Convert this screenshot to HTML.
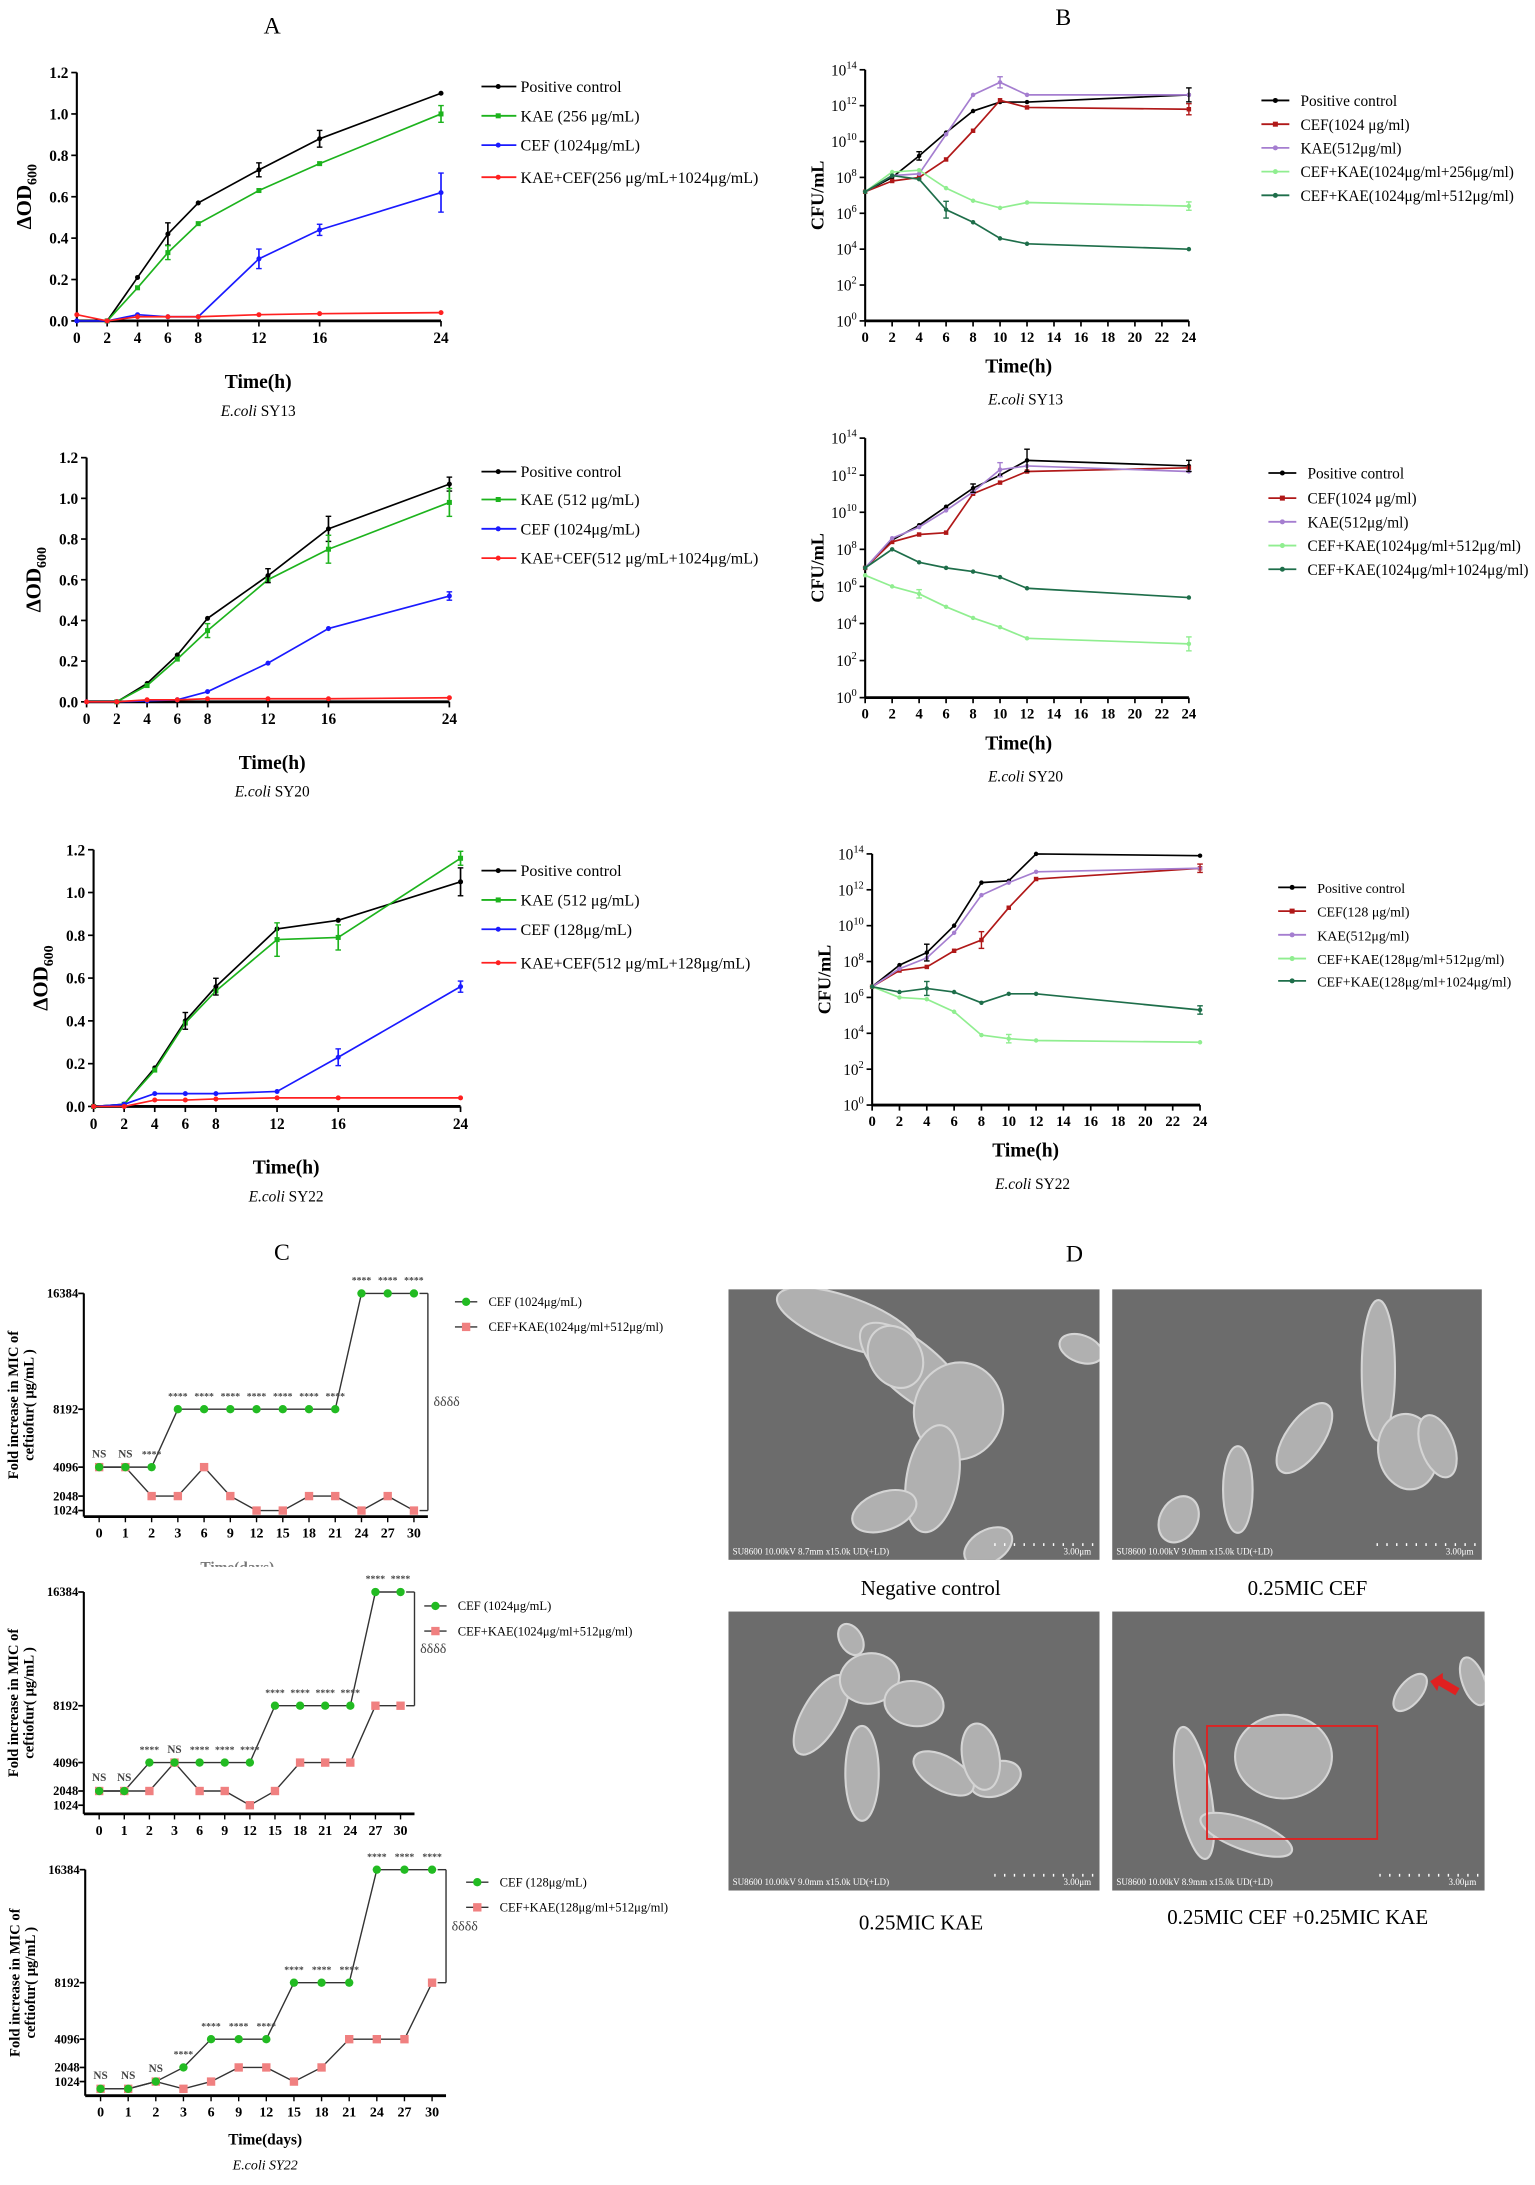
<!DOCTYPE html>
<html><head><meta charset="utf-8">
<style>
html,body{margin:0;padding:0;background:#fff;}
svg{display:block;font-family:"Liberation Serif",serif;}
</style></head>
<body>
<svg id="s" width="1535" height="2185" viewBox="0 0 1100 1566" xmlns="http://www.w3.org/2000/svg"></svg>
<script>
const S=document.getElementById('s');let h='';
function T(x,y,t,o){o=o||{};h+=`<text x="${x}" y="${y}" font-size="${o.fs||12}" text-anchor="${o.a||'middle'}" font-weight="${o.w||'normal'}" font-style="${o.i||'normal'}" fill="${o.c||'#000'}" ${o.tr?`transform="${o.tr}"`:''}>${t}</text>`;}
function L(x1,y1,x2,y2,c,w){h+=`<line x1="${x1}" y1="${y1}" x2="${x2}" y2="${y2}" stroke="${c||'#000'}" stroke-width="${w||1}"/>`;}
function P(pts,c,w){h+=`<polyline points="${pts.map(p=>p.join(',')).join(' ')}" fill="none" stroke="${c}" stroke-width="${w||1.2}"/>`;}
function M(x,y,c,sh,r){r=r||2;if(sh=='s')h+=`<rect x="${x-r}" y="${y-r}" width="${2*r}" height="${2*r}" fill="${c}"/>`;else h+=`<circle cx="${x}" cy="${y}" r="${r}" fill="${c}"/>`;}
// ---------- Panel A ----------
function panelA(o){
 const X=t=>o.x0+(o.x24-o.x0)*t/24, Y=v=>o.yb-(o.yb-o.yt)*v/1.2;
 L(o.x0,o.yt,o.x0,o.yb,'#000',1.5);L(o.x0,o.yb,o.x24,o.yb,'#000',2);
 for(let i=0;i<=6;i++){const v=i*0.2;L(o.x0-4,Y(v),o.x0,Y(v),'#000',1.2);T(o.x0-6,Y(v)+4,v.toFixed(1),{a:'end',w:'bold',fs:11});}
 [0,2,4,6,8,12,16,24].forEach(t=>{L(X(t),o.yb,X(t),o.yb+4,'#000',1.2);T(X(t),o.yb+16,t,{w:'bold',fs:11});});
 const cols=['#000','#1db31d','#1a1aff','#ff2020'],ts=[0,2,4,6,8,12,16,24];
 o.d.forEach((d,k)=>{const pts=[];d.forEach((v,i)=>{if(v!=null)pts.push([X(ts[i]),Y(v)]);});P(pts,cols[k]);pts.forEach(p=>M(p[0],p[1],cols[k],k==1?'s':'c',1.8));});
 o.err.forEach(e=>{const x=X(e[0]),y=Y(e[1]),c=cols[e[3]];L(x,y-e[2],x,y+e[2],c,1.2);L(x-2,y-e[2],x+2,y-e[2],c);L(x-2,y+e[2],x+2,y+e[2],c);});
 o.leg.forEach((t,k)=>{const y=o.ly[k];L(345,y,370,y,cols[k],1.3);M(357,y,cols[k],k==1?'s':'c',1.8);T(373,y+4,t,{a:'start',fs:11.5});});
 T(o.xl,o.yb+48,'Time(h)',{w:'bold',fs:14});
 h+=`<text x="${o.xl}" y="${o.yb+68}" font-size="11" text-anchor="middle"><tspan font-style="italic">E.coli</tspan> ${o.st}</text>`;
 h+=`<text transform="translate(${o.x0-33},${(o.yt+o.yb)/2}) rotate(-90)" font-size="15" font-weight="bold" text-anchor="middle">ΔOD<tspan font-size="10" dy="4">600</tspan></text>`;
}
T(195,24,'A',{fs:17});
panelA({x0:55,x24:316,yt:52,yb:230,st:'SY13',xl:185,ly:[62,83,104,127],
 leg:['Positive control','KAE (256 μg/mL)','CEF (1024μg/mL)','KAE+CEF(256 μg/mL+1024μg/mL)'],
 d:[[null,0,0.21,0.42,0.57,0.73,0.88,1.1],[null,0,0.16,0.33,0.47,0.63,0.76,1.0],[0,0,0.03,0.02,0.02,0.3,0.44,0.62],[0.03,0,0.02,0.02,0.02,0.03,0.035,0.04]],
 err:[[6,0.42,8,0],[16,0.88,6,0],[12,0.73,5,0],[24,1.0,6,1],[6,0.33,5,1],[24,0.62,14,2],[12,0.3,7,2],[16,0.44,4,2]]});
panelA({x0:62,x24:322,yt:328,yb:503,st:'SY20',xl:195,ly:[338,358,379,400],
 leg:['Positive control','KAE (512 μg/mL)','CEF (1024μg/mL)','KAE+CEF(512 μg/mL+1024μg/mL)'],
 d:[[null,0,0.09,0.23,0.41,0.62,0.85,1.07],[null,0,0.08,0.21,0.35,0.6,0.75,0.98],[0,0,0.005,0.01,0.05,0.19,0.36,0.52],[0,0,0.01,0.01,0.015,0.015,0.015,0.02]],
 err:[[16,0.85,9,0],[12,0.62,5,0],[24,1.07,5,0],[24,0.98,10,1],[16,0.75,10,1],[8,0.35,5,1],[24,0.52,3,2]]});
panelA({x0:67,x24:330,yt:609,yb:793,st:'SY22',xl:205,ly:[624,645,666,690],
 leg:['Positive control','KAE (512 μg/mL)','CEF (128μg/mL)','KAE+CEF(512 μg/mL+128μg/mL)'],
 d:[[0,0.01,0.18,0.4,0.56,0.83,0.87,1.05],[0,0.01,0.17,0.39,0.54,0.78,0.79,1.16],[0,0.01,0.06,0.06,0.06,0.07,0.23,0.56],[0,0,0.03,0.03,0.035,0.04,0.04,0.04]],
 err:[[6,0.4,6,0],[8,0.56,6,0],[24,1.05,10,0],[12,0.78,12,1],[16,0.79,9,1],[24,1.16,5,1],[16,0.23,6,2],[24,0.56,4,2]]});
// ---------- Panel B ----------
function panelB(o){
 const X=t=>o.x0+(o.x24-o.x0)*t/24, Y=v=>o.yb-(o.yb-o.yt)*v/14;
 L(o.x0,o.yt,o.x0,o.yb,'#000',1.5);L(o.x0,o.yb,o.x24,o.yb,'#000',2);
 for(let v=0;v<=14;v+=2){L(o.x0-4,Y(v),o.x0,Y(v),'#000',1.2);h+=`<text x="${o.x0-6}" y="${Y(v)+4}" font-size="11" text-anchor="end">10<tspan font-size="7.5" dy="-5">${v}</tspan></text>`;}
 for(let t=0;t<=24;t+=2){L(X(t),o.yb,X(t),o.yb+4,'#000',1.2);T(X(t),o.yb+15,t,{w:'bold',fs:10.5});}
 const cols=['#000','#b01818','#a57ed0','#90ee90','#1e6e4a'],ts=[0,2,4,6,8,10,12,24];
 o.d.forEach((d,k)=>{const pts=d.map((v,i)=>[X(ts[i]),Y(v)]);P(pts,cols[k]);pts.forEach(p=>M(p[0],p[1],cols[k],k==1?'s':'c',1.6));});
 o.err.forEach(e=>{const x=X(e[0]),y=Y(e[1]),c=cols[e[3]];L(x,y-e[2],x,y+e[2],c,1);L(x-2,y-e[2],x+2,y-e[2],c);L(x-2,y+e[2],x+2,y+e[2],c);});
 o.leg.forEach((t,k)=>{const y=o.ly[k];L(o.lx-28,y,o.lx-8,y,cols[k],1.3);M(o.lx-18,y,cols[k],k==1?'s':'c',1.8);T(o.lx,y+4,t,{a:'start',fs:o.lfs||11});});
 T(o.xl,o.yb+37,'Time(h)',{w:'bold',fs:14});
 h+=`<text x="${o.xl+5}" y="${o.yb+60}" font-size="11" text-anchor="middle"><tspan font-style="italic">E.coli</tspan> ${o.st}</text>`;
 T(0,0,'CFU/mL',{w:'bold',fs:13,tr:`translate(${o.x0-30},${(o.yt+o.yb)/2}) rotate(-90)`});
}
T(762,18,'B',{fs:17});
panelB({x0:620,x24:852,yt:50,yb:230,st:'SY13',xl:730,lx:932,ly:[72,89,106,123,140],
 leg:['Positive control','CEF(1024 μg/ml)','KAE(512μg/ml)','CEF+KAE(1024μg/ml+256μg/ml)','CEF+KAE(1024μg/ml+512μg/ml)'],
 d:[[7.2,8,9.2,10.5,11.7,12.2,12.2,12.6],[7.2,7.8,8,9,10.6,12.3,11.9,11.8],[7.2,8.1,8.2,10.4,12.6,13.3,12.6,12.6],[7.2,8.3,8.4,7.4,6.7,6.3,6.6,6.4],[7.2,8.1,7.9,6.2,5.5,4.6,4.3,4.0]],
 err:[[10,13.3,4,2],[24,12.6,5,0],[24,11.8,4,1],[6,6.2,6,4],[4,9.2,3,0],[24,6.4,3,3]]});
panelB({x0:620,x24:852,yt:314,yb:500,st:'SY20',xl:730,lx:937,ly:[339,357,374,391,408],
 leg:['Positive control','CEF(1024 μg/ml)','KAE(512μg/ml)','CEF+KAE(1024μg/ml+512μg/ml)','CEF+KAE(1024μg/ml+1024μg/ml)'],
 d:[[7,8.5,9.3,10.3,11.3,12,12.8,12.5],[7,8.4,8.8,8.9,11,11.6,12.2,12.4],[7,8.6,9.2,10.1,11.1,12.3,12.5,12.2],[6.6,6,5.6,4.9,4.3,3.8,3.2,2.9],[7,8,7.3,7,6.8,6.5,5.9,5.4]],
 err:[[12,12.8,8,0],[10,12.3,5,2],[24,12.5,4,0],[24,2.9,5,3],[4,5.6,3,3],[8,11.3,3,0]]});
panelB({x0:625,x24:860,yt:612,yb:792,st:'SY22',xl:735,lx:944,lfs:10,ly:[636,653,670,687,703],
 leg:['Positive control','CEF(128 μg/ml)','KAE(512μg/ml)','CEF+KAE(128μg/ml+512μg/ml)','CEF+KAE(128μg/ml+1024μg/ml)'],
 d:[[6.6,7.8,8.5,10,12.4,12.5,14,13.9],[6.6,7.5,7.7,8.6,9.2,11,12.6,13.2],[6.6,7.6,8.2,9.6,11.7,12.4,13,13.2],[6.6,6,5.9,5.2,3.9,3.7,3.6,3.5],[6.6,6.3,6.5,6.3,5.7,6.2,6.2,5.3]],
 err:[[4,8.5,6,0],[8,9.2,6,1],[24,5.3,3,4],[24,13.2,3,1],[4,6.5,5,4],[10,3.7,3,3]]});
// ---------- Panel C ----------
function panelC(o){
 const days=[0,1,2,3,6,9,12,15,18,21,24,27,30];
 const X=i=>o.x0+o.dx*i, Y=v=>o.y0-(o.y0-o.y16)*v/16384;
 L(o.x0-11,o.y16,o.x0-11,o.yb,'#000',1.5);L(o.x0-11,o.yb,X(12)+10,o.yb,'#000',2);
 [1024,2048,4096,8192,16384].forEach(v=>{L(o.x0-15,Y(v),o.x0-11,Y(v),'#000',1.2);T(o.x0-15,Y(v)+3,v,{a:'end',w:'bold',fs:9});});
 days.forEach((d,i)=>{L(X(i),o.yb,X(i),o.yb+4);T(X(i),o.yb+15,d,{w:'bold',fs:10});});
 const gp=o.g.map((v,i)=>[X(i),Y(v)]),pp=o.p.map((v,i)=>[X(i),Y(v)]);
 P(gp,'#333',1);P(pp,'#333',1);
 pp.forEach(p=>M(p[0],p[1],'#f08080','s',3));gp.forEach(p=>M(p[0],p[1],'#22bb22','c',3));
 o.lab.forEach((t,i)=>T(X(i),Y(o.g[i])-7,t,{fs:t=='NS'?8:7,c:'#444',w:'bold'}));
 const bx=X(12)+10;L(X(12)+4,Y(16384),bx,Y(16384),'#333');L(bx,Y(16384),bx,Y(o.p[12]),'#333');L(X(12)+4,Y(o.p[12]),bx,Y(o.p[12]),'#333');
 T(bx+4,(Y(16384)+Y(o.p[12]))/2+3,'δδδδ',{a:'start',fs:10,c:'#444'});
 L(o.lx-24,o.ly,o.lx-8,o.ly,'#333');M(o.lx-16,o.ly,'#22bb22','c',3);T(o.lx,o.ly+3,o.l1,{a:'start',fs:9});
 L(o.lx-24,o.ly+18,o.lx-8,o.ly+18,'#333');M(o.lx-16,o.ly+18,'#f08080','s',3);T(o.lx,o.ly+21,o.l2,{a:'start',fs:9});
 const cy=(o.y16+o.yb)/2;
 T(0,0,'Fold increase in  MIC of',{w:'bold',fs:10.5,tr:`translate(${o.x0-58},${cy}) rotate(-90)`});
 T(0,0,'ceftiofur( μg/mL )',{w:'bold',fs:10.5,tr:`translate(${o.x0-47},${cy}) rotate(-90)`});
}
T(202,903,'C',{fs:17});
const S4='****';
panelC({x0:71,dx:18.8,y16:927,y0:1093,yb:1087,lx:350,ly:933,l1:'CEF (1024μg/mL)',l2:'CEF+KAE(1024μg/ml+512μg/ml)',
 g:[4096,4096,4096,8192,8192,8192,8192,8192,8192,8192,16384,16384,16384],
 p:[4096,4096,2048,2048,4096,2048,1024,1024,2048,2048,1024,2048,1024],
 lab:['NS','NS',S4,S4,S4,S4,S4,S4,S4,S4,S4,S4,S4]});
h+=`<text x="170" y="1127" font-size="11" text-anchor="middle" font-weight="bold" fill="#777">Time(days)</text><rect x="120" y="1123" width="100" height="8" fill="#fff"/>`;
panelC({x0:71,dx:18,y16:1141,y0:1304,yb:1300,lx:328,ly:1151,l1:'CEF (1024μg/mL)',l2:'CEF+KAE(1024μg/ml+512μg/ml)',
 g:[2048,2048,4096,4096,4096,4096,4096,8192,8192,8192,8192,16384,16384],
 p:[2048,2048,2048,4096,2048,2048,1024,2048,4096,4096,4096,8192,8192],
 lab:['NS','NS',S4,'NS',S4,S4,S4,S4,S4,S4,S4,S4,S4]});
panelC({x0:72,dx:19.8,y16:1340,y0:1502,yb:1502,lx:358,ly:1349,l1:'CEF (128μg/mL)',l2:'CEF+KAE(128μg/ml+512μg/ml)',
 g:[500,500,1024,2048,4096,4096,4096,8192,8192,8192,16384,16384,16384],
 p:[500,500,1024,500,1024,2048,2048,1024,2048,4096,4096,4096,8192],
 lab:['NS','NS','NS',S4,S4,S4,S4,S4,S4,S4,S4,S4,S4]});
T(190,1537,'Time(days)',{w:'bold',fs:11});
h+=`<text x="190" y="1555" font-size="10" text-anchor="middle" font-style="italic">E.coli SY22</text>`;
// ---------- Panel D ----------
T(770,904,'D',{fs:17});
function sem(x,y,w,ht,info,cells){
 h+=`<svg x="${x}" y="${y}" width="${w}" height="${ht}"><rect width="${w}" height="${ht}" fill="#6c6c6c"/>`;
 cells.forEach(c=>{h+=`<ellipse cx="${c[0]*w}" cy="${c[1]*ht}" rx="${c[2]*w}" ry="${c[3]*ht}" transform="rotate(${c[4]} ${c[0]*w} ${c[1]*ht})" fill="#b0b0b0" stroke="#d4d4d4" stroke-width="1.5"/>`;});
 h+=`</svg>`;
 T(x+3,y+ht-4,info,{a:'start',fs:6.5,c:'#fff'});
 T(x+w-6,y+ht-4,'3.00μm',{a:'end',fs:6.5,c:'#fff'});
 for(let i=0;i<11;i++)L(x+w-75+i*7,y+ht-12,x+w-75+i*7,y+ht-10,'#fff',1);
}
sem(522,924,266,194,'SU8600 10.00kV 8.7mm x15.0k UD(+LD)',[[0.32,0.12,0.2,0.09,20],[0.5,0.3,0.18,0.1,40],[0.62,0.45,0.12,0.18,10],[0.55,0.7,0.07,0.2,10],[0.42,0.82,0.09,0.07,-20],[0.45,0.25,0.07,0.12,-30],[0.95,0.22,0.06,0.05,20],[0.7,0.95,0.07,0.06,-30]]);
sem(797,924,265,194,'SU8600 10.00kV 9.0mm x15.0k UD(+LD)',[[0.18,0.85,0.05,0.09,30],[0.34,0.74,0.04,0.16,0],[0.52,0.55,0.05,0.15,35],[0.72,0.3,0.045,0.26,0],[0.8,0.6,0.08,0.14,-10],[0.88,0.58,0.045,0.12,-20]]);
sem(522,1155,266,200,'SU8600 10.00kV 9.0mm x15.0k UD(+LD)',[[0.25,0.37,0.05,0.16,30],[0.38,0.24,0.08,0.09,-10],[0.5,0.33,0.08,0.08,10],[0.36,0.58,0.045,0.17,0],[0.72,0.6,0.07,0.06,-20],[0.58,0.58,0.09,0.06,30],[0.68,0.52,0.05,0.12,-10],[0.33,0.1,0.03,0.06,-30]]);
sem(797,1155,267,200,'SU8600 10.00kV 8.9mm x15.0k UD(+LD)',[[0.46,0.52,0.13,0.15,0],[0.22,0.65,0.045,0.24,-10],[0.36,0.8,0.13,0.055,20],[0.8,0.29,0.03,0.08,40],[0.97,0.25,0.03,0.09,-20]]);
h+=`<rect x="865" y="1237" width="122" height="81" fill="none" stroke="#e02020" stroke-width="1.3"/>`;
h+=`<polygon points="1025,1205 1034,1199 1034,1203 1046,1210 1043,1215 1031,1208 1030,1212" fill="#e02020"/>`;
T(667,1143,'Negative control',{fs:15});T(937,1143,'0.25MIC CEF',{fs:15});
T(660,1383,'0.25MIC KAE',{fs:15});T(930,1379,'0.25MIC CEF +0.25MIC KAE',{fs:15});
S.innerHTML=h;
</script>
</body></html>
